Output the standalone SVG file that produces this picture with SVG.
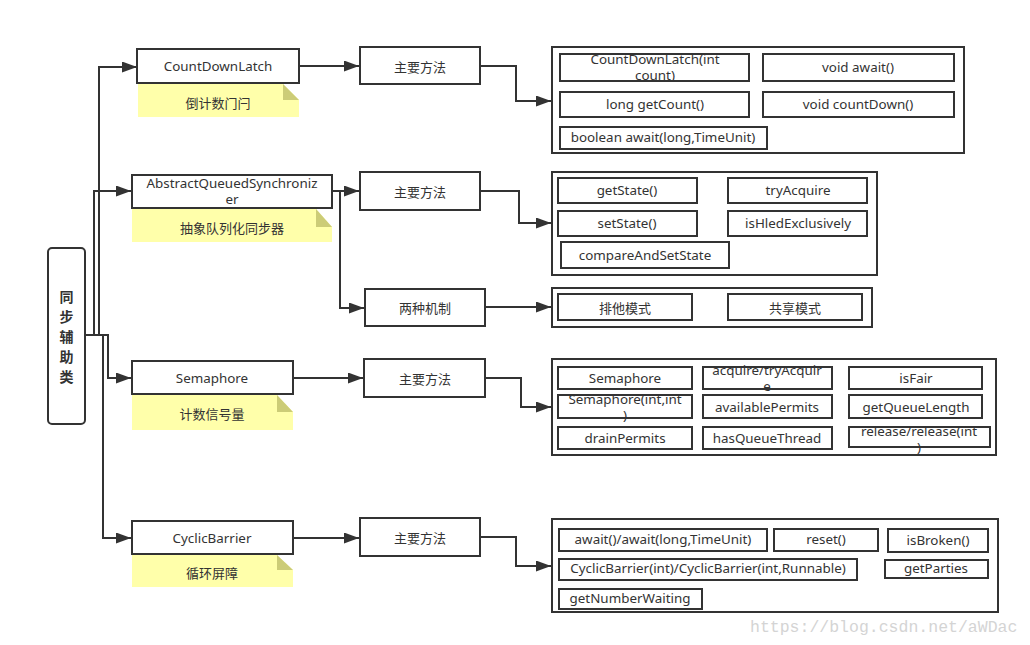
<svg xmlns="http://www.w3.org/2000/svg" width="1030" height="645" viewBox="0 0 1030 645">
<defs>
<marker id="arr" markerUnits="userSpaceOnUse" markerWidth="16" markerHeight="12" refX="15" refY="5.5" orient="auto">
<path d="M0,0 L15,5.5 L0,11 z" fill="#333"/>
</marker>
<style>
.box{fill:#fff;stroke:#333;stroke-width:2}
.t{font-family:"Noto Sans","Noto Sans CJK SC",sans-serif;font-size:13.4px;fill:#333;text-anchor:middle;dominant-baseline:central}
.c{font-family:"Noto Sans CJK SC","Noto Sans",sans-serif;font-size:13px;fill:#333;text-anchor:middle;dominant-baseline:central}
.note{fill:#ffffaa}
.fold{fill:#cccc77}
.ln{fill:none;stroke:#333;stroke-width:2}
.wm{font-family:"Liberation Mono",monospace;font-size:16.5px;fill:#d4d4d4}
</style>
</defs>
<rect width="1030" height="645" fill="#fff"/>

<g id="connectors">
<path class="ln" d="M85,335 H99 V67 H137" marker-end="url(#arr)"/>
<path class="ln" d="M85,335 H94 V191 H131" marker-end="url(#arr)"/>
<path class="ln" d="M85,335 H108 V378 H131" marker-end="url(#arr)"/>
<path class="ln" d="M85,335 H103 V538 H131" marker-end="url(#arr)"/>
<path class="ln" d="M299,66 H359" marker-end="url(#arr)"/>
<path class="ln" d="M480,66 H516 V101 H551" marker-end="url(#arr)"/>
<path class="ln" d="M332,191 H359" marker-end="url(#arr)"/>
<path class="ln" d="M340,191 V308 H364" marker-end="url(#arr)"/>
<path class="ln" d="M480,191 H519 V223 H551" marker-end="url(#arr)"/>
<path class="ln" d="M485,307 H551" marker-end="url(#arr)"/>
<path class="ln" d="M293,378 H363" marker-end="url(#arr)"/>
<path class="ln" d="M485,378 H521 V407 H551" marker-end="url(#arr)"/>
<path class="ln" d="M293,538 H359" marker-end="url(#arr)"/>
<path class="ln" d="M480,537 H516 V566 H551" marker-end="url(#arr)"/>
</g>

<g id="root">
<rect class="box" x="48" y="248" width="37" height="176" rx="4"/>
<text class="c" x="66.5" y="296" style="font-weight:bold;font-size:14px">同</text>
<text class="c" x="66.5" y="316" style="font-weight:bold;font-size:14px">步</text>
<text class="c" x="66.5" y="336" style="font-weight:bold;font-size:14px">辅</text>
<text class="c" x="66.5" y="356" style="font-weight:bold;font-size:14px">助</text>
<text class="c" x="66.5" y="376" style="font-weight:bold;font-size:14px">类</text>
</g>

<g id="countdownlatch">
<rect class="box" x="137" y="49" width="162" height="34"/>
<text class="t" x="218" y="66">CountDownLatch</text>
</g>
<g id="note-cdl">
<path class="note" d="M138,84 H283 L299,100 V117 H138 z"/>
<path class="fold" d="M283,84 V100 H299 z"/>
<text class="c" x="218" y="102">倒计数门闩</text>
</g>
<g id="cdl-methods-label">
<rect class="box" x="360" y="47" width="120" height="37"/>
<text class="c" x="420" y="66">主要方法</text>
</g>
<g id="cdl-methods">
<rect class="box" x="552" y="47" width="412" height="106"/>
<rect class="box" x="560" y="54" width="189" height="27"/>
<text class="t" x="655" y="59">CountDownLatch(int</text>
<text class="t" x="655" y="75">count)</text>
<rect class="box" x="763" y="54" width="191" height="27"/>
<text class="t" x="858" y="67">void await()</text>
<rect class="box" x="560" y="92" width="189" height="25"/>
<text class="t" x="655" y="104">long getCount()</text>
<rect class="box" x="763" y="92" width="191" height="25"/>
<text class="t" x="858" y="104">void countDown()</text>
<rect class="box" x="560" y="127" width="207" height="22"/>
<text class="t" x="663" y="137">boolean await(long,TimeUnit)</text>
</g>

<g id="aqs">
<rect class="box" x="132" y="175" width="200" height="33"/>
<text class="t" x="232" y="183">AbstractQueuedSynchroniz</text>
<text class="t" x="232" y="199">er</text>
</g>
<g id="note-aqs">
<path class="note" d="M132,209 H316 L332,227 V242 H132 z"/>
<path class="fold" d="M316,209 V227 H332 z"/>
<text class="c" x="232" y="227">抽象队列化同步器</text>
</g>
<g id="aqs-methods-label">
<rect class="box" x="360" y="172" width="120" height="38"/>
<text class="c" x="420" y="191">主要方法</text>
</g>
<g id="aqs-methods">
<rect class="box" x="552" y="172" width="325" height="103"/>
<rect class="box" x="558" y="178" width="139" height="25"/>
<text class="t" x="627" y="190">getState()</text>
<rect class="box" x="728" y="178" width="139" height="25"/>
<text class="t" x="798" y="190">tryAcquire</text>
<rect class="box" x="558" y="211" width="139" height="25"/>
<text class="t" x="627" y="223">setState()</text>
<rect class="box" x="728" y="211" width="139" height="25"/>
<text class="t" x="798" y="223">isHledExclusively</text>
<rect class="box" x="561" y="242" width="168" height="26"/>
<text class="t" x="645" y="255">compareAndSetState</text>
</g>
<g id="aqs-modes-label">
<rect class="box" x="365" y="289" width="120" height="37"/>
<text class="c" x="425" y="307">两种机制</text>
</g>
<g id="aqs-modes">
<rect class="box" x="552" y="288" width="320" height="39"/>
<rect class="box" x="558" y="294" width="134" height="26"/>
<text class="c" x="625" y="307">排他模式</text>
<rect class="box" x="728" y="294" width="134" height="26"/>
<text class="c" x="795" y="307">共享模式</text>
</g>

<g id="semaphore">
<rect class="box" x="132" y="361" width="161" height="33"/>
<text class="t" x="212" y="378">Semaphore</text>
</g>
<g id="note-sem">
<path class="note" d="M132,395 H277 L293,412 V430 H132 z"/>
<path class="fold" d="M277,395 V412 H293 z"/>
<text class="c" x="212" y="413">计数信号量</text>
</g>
<g id="sem-methods-label">
<rect class="box" x="364" y="359" width="121" height="38"/>
<text class="c" x="425" y="378">主要方法</text>
</g>
<g id="sem-methods">
<rect class="box" x="552" y="359" width="444" height="96"/>
<rect class="box" x="558" y="367" width="134" height="22"/>
<text class="t" x="625" y="378">Semaphore</text>
<rect class="box" x="703" y="367" width="129" height="22"/>
<text class="t" x="767" y="370">acquire/tryAcquir</text>
<text class="t" x="767" y="386">e</text>
<rect class="box" x="849" y="367" width="133" height="22"/>
<text class="t" x="916" y="378">isFair</text>
<rect class="box" x="558" y="395" width="134" height="23"/>
<text class="t" x="625" y="399">Semaphore(int,int</text>
<text class="t" x="625" y="415">)</text>
<rect class="box" x="703" y="395" width="129" height="23"/>
<text class="t" x="767" y="407">availablePermits</text>
<rect class="box" x="849" y="395" width="133" height="23"/>
<text class="t" x="916" y="407">getQueueLength</text>
<rect class="box" x="558" y="427" width="134" height="22"/>
<text class="t" x="625" y="438">drainPermits</text>
<rect class="box" x="703" y="427" width="129" height="22"/>
<text class="t" x="767" y="438">hasQueueThread</text>
<rect class="box" x="849" y="427" width="141" height="20"/>
<text class="t" x="919" y="431">release/release(int</text>
<text class="t" x="919" y="447">)</text>
</g>

<g id="cyclicbarrier">
<rect class="box" x="132" y="521" width="161" height="33"/>
<text class="t" x="212" y="538">CyclicBarrier</text>
</g>
<g id="note-cb">
<path class="note" d="M132,555 H277 L293,570 V587 H132 z"/>
<path class="fold" d="M277,555 V570 H293 z"/>
<text class="c" x="212" y="572">循环屏障</text>
</g>
<g id="cb-methods-label">
<rect class="box" x="360" y="518" width="120" height="38"/>
<text class="c" x="420" y="537">主要方法</text>
</g>
<g id="cb-methods">
<rect class="box" x="552" y="519" width="446" height="93"/>
<rect class="box" x="559" y="529" width="208" height="22"/>
<text class="t" x="663" y="539">await()/await(long,TimeUnit)</text>
<rect class="box" x="774" y="529" width="104" height="22"/>
<text class="t" x="826" y="539">reset()</text>
<rect class="box" x="888" y="529" width="100" height="23"/>
<text class="t" x="938" y="540">isBroken()</text>
<rect class="box" x="559" y="559" width="298" height="21"/>
<text class="t" x="708" y="568">CyclicBarrier(int)/CyclicBarrier(int,Runnable)</text>
<rect class="box" x="885" y="560" width="103" height="18"/>
<text class="t" x="936" y="568">getParties</text>
<rect class="box" x="559" y="589" width="143" height="20"/>
<text class="t" x="630" y="598">getNumberWaiting</text>
</g>

<text class="wm" x="750" y="632">https://blog.csdn.net/aWDac</text>
</svg>
